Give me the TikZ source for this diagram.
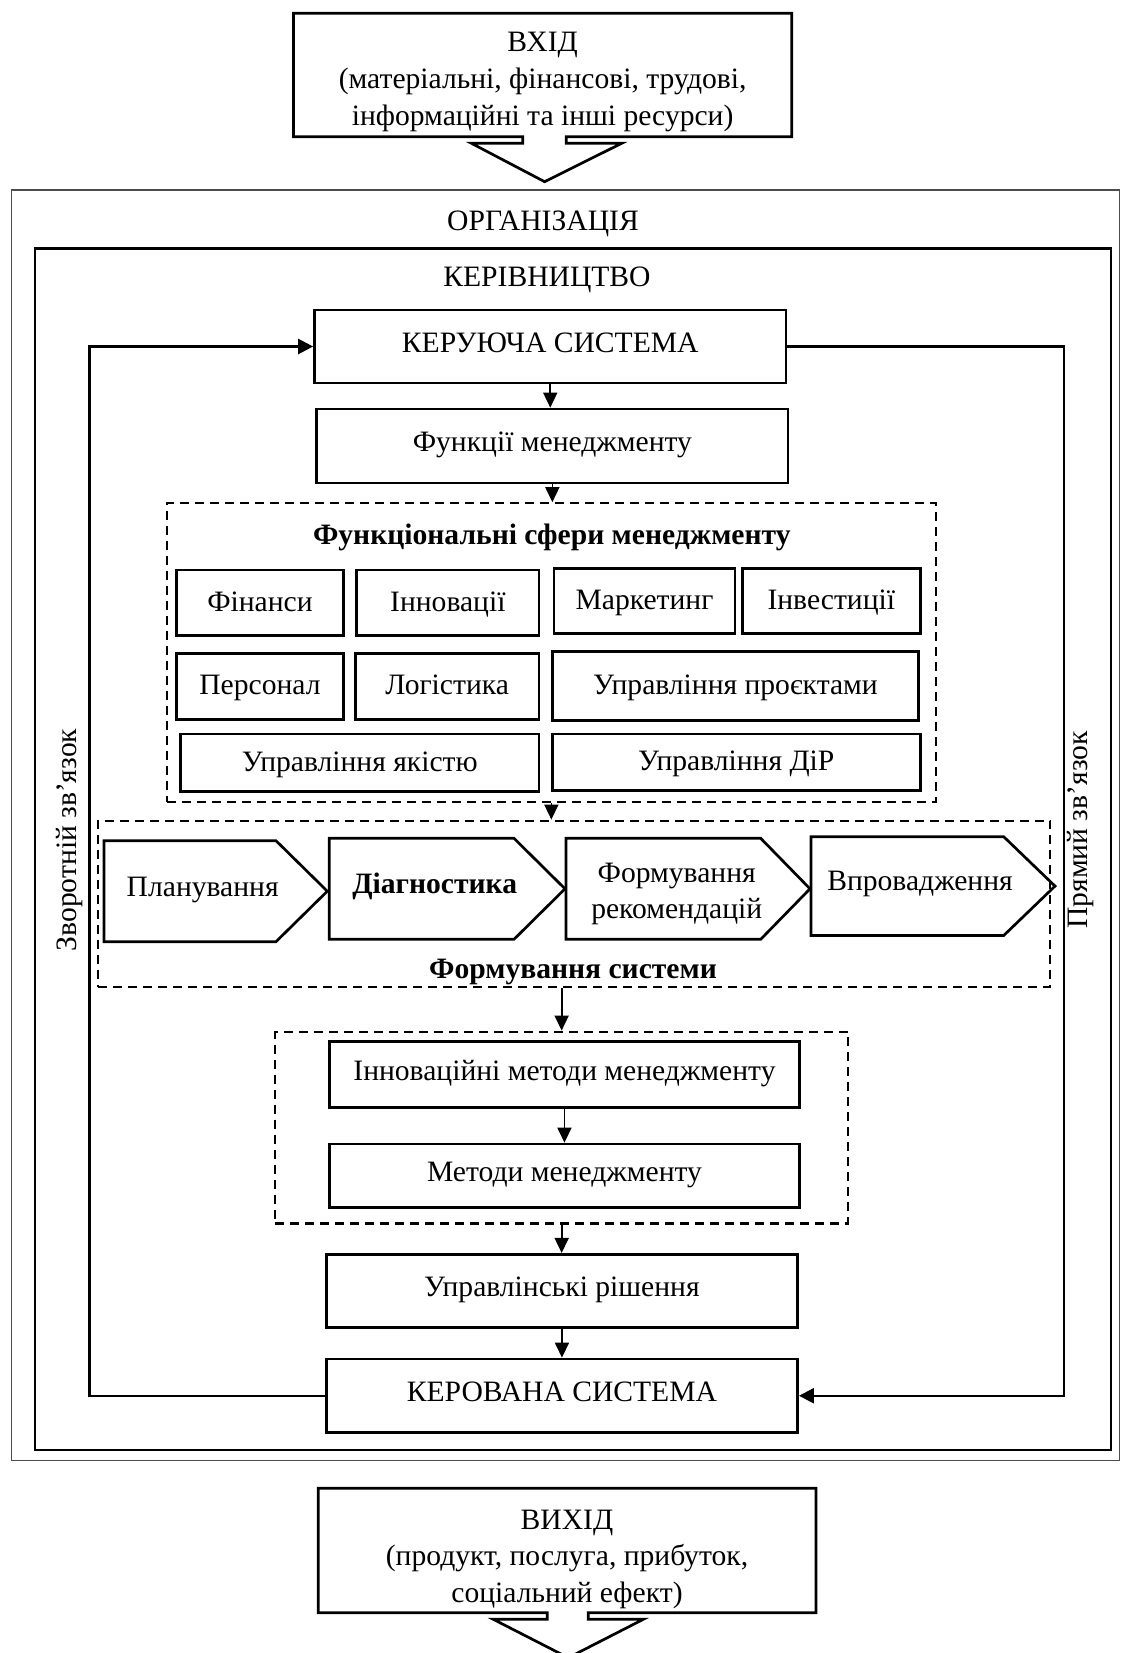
\documentclass[tikz,border=0pt]{standalone}
\usepackage{fontspec}
\setmainfont{Liberation Serif}
\usetikzlibrary{arrows.meta,calc}
\newcommand\diagfont{\fontsize{29.6}{33.5}\selectfont}

\begin{document}
\begin{tikzpicture}[x=1pt,y=-1pt,
  font=\diagfont,
  % a rectangle given by its left, top, right and bottom edges
  span/.style n args={4}{rectangle, inner sep=0pt,
    minimum width={(#3-#1)*1pt}, minimum height={(#4-#2)*1pt},
    at={({(#1+#3)/2},{(#2+#4)/2})}},
  box/.style={draw, line width=2.7pt, text height=19pt, text depth=8pt},
  area/.style={box, text depth=2pt},
  dbox/.style={draw, dash pattern=on 9pt off 6pt, line width=2.2pt},
  outline/.style={draw, line width=2.7pt, line join=miter},
  conn/.style={line width=1.7pt, -{Triangle[length=15pt,width=14pt]}},
  fb/.style={line width=2.4pt, -{Triangle[length=15pt,width=15pt]}},
  lbl/.style={inner sep=0pt},
]
\useasboundingbox (0,0) rectangle (1121,1653);

% input block with its hollow arrow
\node[lbl, align=center, font=\fontsize{29.6}{37}\selectfont] (vkhid) at (542.6,82.4)
  {ВХІД\\(матеріальні, фінансові, трудові,\\інформаційні та інші ресурси)};
\draw[outline] (522.8,136.7) -- (522.8,143.3) -- (471.4,143.3) -- (544.6,181.7)
  -- (621.7,143.3) -- (566.3,143.3) -- (566.3,136.7) -- (791.7,136.7)
  -- (791.7,13.3) -- (293.5,13.3) -- (293.5,136.7) -- cycle;

% organisation and management frames
\node[span={11.5}{190}{1119.5}{1460.5}, draw=black!70, line width=1.3pt] (org) {};
\node[span={35}{248.3}{1111}{1450}, draw, line width=2.7pt] (kerivn) {};
\node[lbl] (orgt) at (543,223.5) {ОРГАНІЗАЦІЯ};
\node[lbl] (kert) at (547,280) {КЕРІВНИЦТВО};

% control chain
\node[span={314.5}{310}{786}{383}, box] (kerujucha) {КЕРУЮЧА СИСТЕМА};
\node[span={316.7}{409}{788}{483}, box] (funk) {Функції менеджменту};

% functional areas
\node[span={166.7}{503.3}{936}{801.7}, dbox] (sfery) {};
\node[lbl, font=\diagfont\bfseries] (sferyt) at (551.8,537) {Функціональні сфери менеджменту};
\node[span={176.7}{570}{343.3}{635.7}, area] (fin) {Фінанси};
\node[span={356.7}{570}{539}{635.7}, area] (innov) {Інновації};
\node[span={554}{568.3}{735}{633.3}, area] (market) {Маркетинг};
\node[span={742.3}{568.3}{920.3}{633.3}, area] (invest) {Інвестиції};
\node[span={176.7}{653.3}{343.3}{719.3}, area] (pers) {Персонал};
\node[span={355.3}{653.3}{539}{719.3}, area] (logist) {Логістика};
\node[span={552.3}{651.7}{918.7}{720.7}, area] (proj) {Управління проєктами};
\node[span={180.7}{734}{539}{791.7}, area] (qual) {Управління якістю};
\node[span={552.3}{734}{920.3}{790.7}, area] (dir) {Управління ДіР};

% system formation stages
\node[span={98.3}{820.7}{1050.3}{987}, dbox] (form) {};
\draw[outline] (104,840.7) -- (276,840.7) -- (327.3,891.2) -- (276,941.7) -- (104,941.7) -- cycle;
\draw[outline] (329.3,838.3) -- (514,838.3) -- (565,888.8) -- (514,939.3) -- (329.3,939.3) -- cycle;
\draw[outline] (566,838.3) -- (760.7,838.3) -- (810,888.8) -- (760.7,939.3) -- (566,939.3) -- cycle;
\draw[outline] (811,836.7) -- (1003.7,836.7) -- (1055,886.1) -- (1003.7,935.5) -- (811,935.5) -- cycle;
\node[lbl] (plan) at (202.7,890.4) {Планування};
\node[lbl, font=\diagfont\bfseries] (diag) at (434.7,886.6) {Діагностика};
\node[lbl, align=center, font=\fontsize{29.6}{36}\selectfont] (rekom) at (676.7,893.5) {Формування\\рекомендацій};
\node[lbl] (vprov) at (920,884) {Впровадження};
\node[lbl, font=\diagfont\bfseries] (formt) at (573,972) {Формування системи};

% methods
\node[span={275.3}{1031.7}{848}{1223.5}, dbox] (metod) {};
\node[span={329.3}{1041.5}{799.6}{1107.5}, box] (innmet) {Інноваційні методи менеджменту};
\node[span={329.3}{1144}{799.6}{1207.5}, box] (met) {Методи менеджменту};
\node[span={326.3}{1254.3}{797.6}{1327.5}, box] (rish) {Управлінські рішення};
\node[span={326.3}{1359}{797.6}{1432.5}, box] (kerovana) {КЕРОВАНА СИСТЕМА};

% vertical flow
\draw[conn] (kerujucha.south) -- (kerujucha.south |- funk.north);
\draw[conn] (funk.south) -- (funk.south |- sfery.north);
\draw[conn] (sfery.south) -- (sfery.south |- form.north);
\draw[conn] (metod.north |- form.south) -- (metod.north);
\draw[conn] (innmet.south) -- (innmet.south |- met.north);
\draw[conn] (metod.south) -- (metod.south |- rish.north);
\draw[conn] (rish.south) -- (rish.south |- kerovana.north);

% feedback and direct links
\coordinate (fbL) at (89.3,0);
\coordinate (fbR) at (1063.7,0);
\draw[fb] (kerovana.west) -| (fbL |- kerujucha.west) -- (kerujucha.west);
\draw[fb] (kerujucha.east) -| (fbR |- kerovana.east) -- (kerovana.east);
\node[lbl, rotate=90] (zvor) at (70,840) {Зворотній зв’язок};
\node[lbl, rotate=90] (pryam) at (1081,830) {Прямий зв’язок};

% output block with its hollow arrow
\node[lbl, align=center, font=\fontsize{29.6}{36.5}\selectfont] (vykhid) at (567,1559)
  {ВИХІД\\(продукт, послуга, прибуток,\\соціальний ефект)};
\draw[outline] (547.3,1612.7) -- (547.3,1619.3) -- (493.3,1619.3) -- (568.3,1657.7)
  -- (643.3,1619.3) -- (588.3,1619.3) -- (588.3,1612.7) -- (816,1612.7)
  -- (816,1488.3) -- (318.3,1488.3) -- (318.3,1612.7) -- cycle;
\end{tikzpicture}
\end{document}
